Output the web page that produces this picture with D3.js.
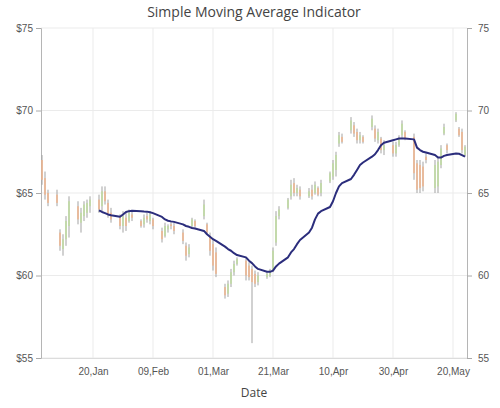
<!DOCTYPE html>
<html>
<head>
<meta charset="utf-8">
<script src="https://cdn.jsdelivr.net/npm/d3@7"></script>
<style>
  body { margin: 0; background: #fff; }
  svg { display: block; font-family: "Open Sans", sans-serif; }
</style>
</head>
<body>
<svg id="chart" width="500" height="408"></svg>
<script>
// trading days (2018)
var dates = [
  "01-03","01-04","01-05","01-08","01-09","01-10","01-11","01-12","01-15","01-16",
  "01-17","01-18","01-19","01-22","01-23","01-24","01-25","01-26","01-29","01-30",
  "01-31","02-01","02-02","02-05","02-06","02-07","02-08","02-09","02-12","02-13",
  "02-14","02-15","02-16","02-19","02-20","02-21","02-22","02-23","02-26","02-27",
  "02-28","03-01","03-02","03-05","03-06","03-07","03-08","03-09","03-12","03-13",
  "03-14","03-15","03-16","03-19","03-20","03-21","03-22","03-23","03-26","03-27",
  "03-28","03-29","03-30","04-02","04-03","04-04","04-05","04-06","04-09","04-10",
  "04-11","04-12","04-13","04-16","04-17","04-18","04-19","04-20","04-23","04-24",
  "04-25","04-26","04-27","04-30","05-01","05-02","05-03","05-04","05-07","05-08",
  "05-09","05-10","05-11","05-14","05-15","05-16","05-17","05-18","05-21","05-22",
  "05-23","05-24"
];

var highs = [
  67.3,66.3,65.2,65.2,62.8,62.5,63.6,64.8,64.5,64.1,
  64.5,64.6,64.8,64.9,65.4,65.4,64.6,64.1,63.7,63.9,
  63.8,64.0,63.9,63.4,63.7,63.8,63.9,63.5,62.9,63.2,
  63.1,63.3,63.2,62.8,62.0,61.9,63.5,63.4,64.6,63.2,
  62.6,62.2,61.7,59.5,59.7,60.4,60.9,61.1,61.1,60.8,
  60.6,60.3,60.2,60.2,60.4,61.7,63.9,64.2,64.7,65.8,
  65.9,65.5,65.4,65.3,65.5,65.7,65.4,65.8,66.3,67.0,
  67.5,68.7,68.6,69.6,69.3,68.9,68.7,68.5,69.7,69.1,
  68.9,68.4,68.2,68.1,68.1,68.5,69.4,68.8,68.6,67.0,
  67.0,66.9,67.4,67.0,67.2,67.9,69.2,68.0,69.9,69.0,
  68.9,67.9
];

var lows = [
  65.5,64.6,64.2,64.2,61.5,61.2,61.8,62.3,63.1,62.6,
  63.3,63.5,63.8,63.8,63.9,64.3,63.5,63.2,62.8,62.6,
  62.7,63.2,63.3,62.9,62.9,63.2,63.1,62.8,62.0,62.3,
  62.6,62.8,62.5,61.9,60.9,61.1,62.9,62.9,63.4,62.5,
  61.2,60.3,59.9,58.6,58.7,59.3,60.0,60.6,59.7,59.7,
  55.9,59.3,59.4,59.8,59.9,60.2,61.8,63.4,64.0,64.6,
  64.8,64.8,64.6,64.7,64.6,64.9,64.8,64.8,65.6,65.8,
  66.0,67.8,68.0,68.6,68.4,68.0,68.0,68.0,68.8,68.1,
  68.0,67.4,67.3,67.2,67.2,67.8,68.3,68.2,65.8,65.0,
  65.0,65.1,66.8,65.0,65.0,66.5,68.5,67.4,69.3,68.4,
  67.4,67.2
];

var opens = [
  67.0,65.9,65.0,64.9,62.6,61.6,62.2,63.0,64.2,63.2,
  63.6,63.8,64.2,64.6,64.2,65.1,64.4,63.8,63.5,63.0,
  63.5,63.3,63.7,63.3,63.1,63.6,63.3,63.4,62.7,62.4,
  62.8,63.1,63.0,62.6,61.8,61.3,63.0,63.3,63.6,63.1,
  62.4,61.9,61.4,59.3,58.9,59.5,60.2,60.7,60.9,60.6,
  60.4,60.1,59.6,59.9,60.0,60.3,62.0,63.6,64.1,64.8,
  65.6,65.0,65.2,64.8,65.2,65.0,65.3,65.0,65.7,66.0,
  66.4,68.0,68.4,68.8,69.1,68.7,68.2,68.4,69.0,68.9,
  68.2,68.3,67.6,67.9,67.4,67.9,68.5,68.7,68.4,66.8,
  66.7,66.6,67.2,65.3,65.4,66.7,68.6,67.9,69.4,68.9,
  68.7,67.3
];

var closes = [
  65.8,64.9,64.4,64.4,61.8,62.2,63.3,64.5,63.4,63.8,
  64.3,64.4,64.6,64.0,65.1,64.5,63.7,63.4,63.0,63.6,
  63.0,63.8,63.5,63.0,63.5,63.4,63.7,63.0,62.2,63.0,
  63.0,63.0,62.7,62.1,61.2,61.7,63.4,63.0,64.3,62.6,
  61.5,60.6,60.1,58.8,59.5,60.2,60.7,61.0,60.0,59.9,
  59.6,59.5,60.0,60.1,60.3,61.5,63.6,64.0,64.6,65.5,
  65.0,65.3,64.8,65.1,64.8,65.5,64.9,65.6,66.2,66.8,
  67.3,68.5,68.1,69.4,68.6,68.2,68.5,68.1,69.5,68.3,
  68.7,67.6,67.9,67.4,67.9,68.3,69.2,68.3,66.2,65.2,
  65.3,65.4,67.0,66.7,66.9,67.7,69.0,67.6,69.8,68.5,
  67.6,67.8
];

// simple moving average (period 14)
var smaValues = [
  null,null,null,null,null,null,null,null,null,null,
  null,null,null,63.95,63.85,63.78,63.7,63.65,63.56,63.7,
  63.85,63.9,63.92,63.9,63.88,63.87,63.83,63.78,63.55,63.4,
  63.32,63.28,63.25,63.1,63.0,62.95,62.88,62.85,62.7,62.5,
  62.35,62.2,62.1,61.75,61.6,61.5,61.35,61.24,61.1,60.9,
  60.75,60.55,60.4,60.23,60.22,60.3,60.55,60.72,61.1,61.4,
  61.6,61.9,62.15,62.6,62.9,63.4,63.75,63.9,64.15,64.5,
  65.0,65.4,65.6,65.85,66.1,66.4,66.7,66.85,67.2,67.35,
  67.6,67.9,68.05,68.2,68.25,68.3,68.3,68.3,68.25,67.75,
  67.6,67.5,67.45,67.3,67.15,67.15,67.25,67.3,67.4,67.38,
  67.3,67.2
];

var xTicks = ["2018-01-20","2018-02-09","2018-03-01","2018-03-21","2018-04-10","2018-04-30","2018-05-20"];
var yTicks = [55, 60, 65, 70, 75];

var margin = {top: 28, right: 33, bottom: 50, left: 41};
var svg = d3.select("#chart"),
    width = 500 - margin.left - margin.right,
    height = 408 - margin.top - margin.bottom;

var parseDate = d3.timeParse("%Y-%m-%d");
var data = dates.map(function(d, i) {
  return {date: parseDate("2018-" + d), high: highs[i], low: lows[i],
          open: opens[i], close: closes[i], sma: smaValues[i]};
});

var x = d3.scaleTime()
  .domain([new Date(2018, 0, 2, 16), new Date(2018, 4, 24, 16)])
  .range([0, width]);
var y = d3.scaleLinear().domain([55, 75]).range([height, 0]);

var g = svg.append("g")
  .attr("transform", "translate(" + margin.left + "," + margin.top + ")");

// gridlines
g.append("g").selectAll("line").data(yTicks).enter().append("line")
  .attr("x1", 0).attr("x2", width)
  .attr("y1", function(d){ return y(d); }).attr("y2", function(d){ return y(d); })
  .attr("stroke", "#ebebeb").attr("stroke-width", 1);
g.append("g").selectAll("line").data(xTicks).enter().append("line")
  .attr("x1", function(d){ return x(parseDate(d)); })
  .attr("x2", function(d){ return x(parseDate(d)); })
  .attr("y1", 0).attr("y2", height)
  .attr("stroke", "#ebebeb").attr("stroke-width", 1);

// axes
var fmtX = d3.timeFormat("%d,%b");
var xAxis = g.append("g")
  .attr("transform", "translate(0," + height + ")")
  .call(d3.axisBottom(x).tickValues(xTicks.map(parseDate)).tickFormat(fmtX)
        .tickSize(0).tickPadding(10));
var yAxisL = g.append("g")
  .call(d3.axisLeft(y).tickValues(yTicks).tickFormat(function(d){ return "$" + d; })
        .tickSize(5).tickPadding(3));
var yAxisR = g.append("g")
  .attr("transform", "translate(" + width + ",0)")
  .call(d3.axisRight(y).tickValues(yTicks).tickSize(5).tickPadding(6));

[xAxis, yAxisL, yAxisR].forEach(function(a) {
  a.selectAll("text").attr("fill", "#555").style("font-size", "10px");
  a.selectAll(".tick line").attr("stroke", "#aaa");
});
xAxis.select(".domain").attr("stroke", "#dcdcdc");
yAxisL.select(".domain").attr("stroke", "#b5b5b5");
yAxisR.select(".domain").attr("stroke", "#b5b5b5");

// candles: thin grey wick, narrow light body
var candles = g.append("g").selectAll("g").data(data).enter().append("g");
candles.append("line")
  .attr("x1", function(d){ return x(d.date); })
  .attr("x2", function(d){ return x(d.date); })
  .attr("y1", function(d){ return y(d.high); })
  .attr("y2", function(d){ return y(d.low); })
  .attr("stroke", "#a3a3a3").attr("stroke-width", 1);
candles.append("rect")
  .attr("x", function(d){ return x(d.date) - 0.75; })
  .attr("width", 1.5)
  .attr("y", function(d){ return y(Math.max(d.open, d.close)); })
  .attr("height", function(d){ return Math.max(1, Math.abs(y(d.open) - y(d.close))); })
  .attr("fill", function(d){ return d.close < d.open ? "#efb48c" : "#bedb9e"; });

// SMA line
var line = d3.line()
  .defined(function(d){ return d.sma != null; })
  .x(function(d){ return x(d.date); })
  .y(function(d){ return y(d.sma); });
g.append("path")
  .datum(data)
  .attr("fill", "none")
  .attr("stroke", "#2b2d7c")
  .attr("stroke-width", 2)
  .attr("stroke-linejoin", "round")
  .attr("d", line);

// titles
svg.append("text")
  .attr("x", 254).attr("y", 17)
  .attr("text-anchor", "middle")
  .attr("fill", "#444")
  .style("font-size", "14px")
  .text("Simple Moving Average Indicator");
svg.append("text")
  .attr("x", 254).attr("y", 397)
  .attr("text-anchor", "middle")
  .attr("fill", "#444")
  .style("font-size", "12px")
  .text("Date");
</script>
</body>
</html>
